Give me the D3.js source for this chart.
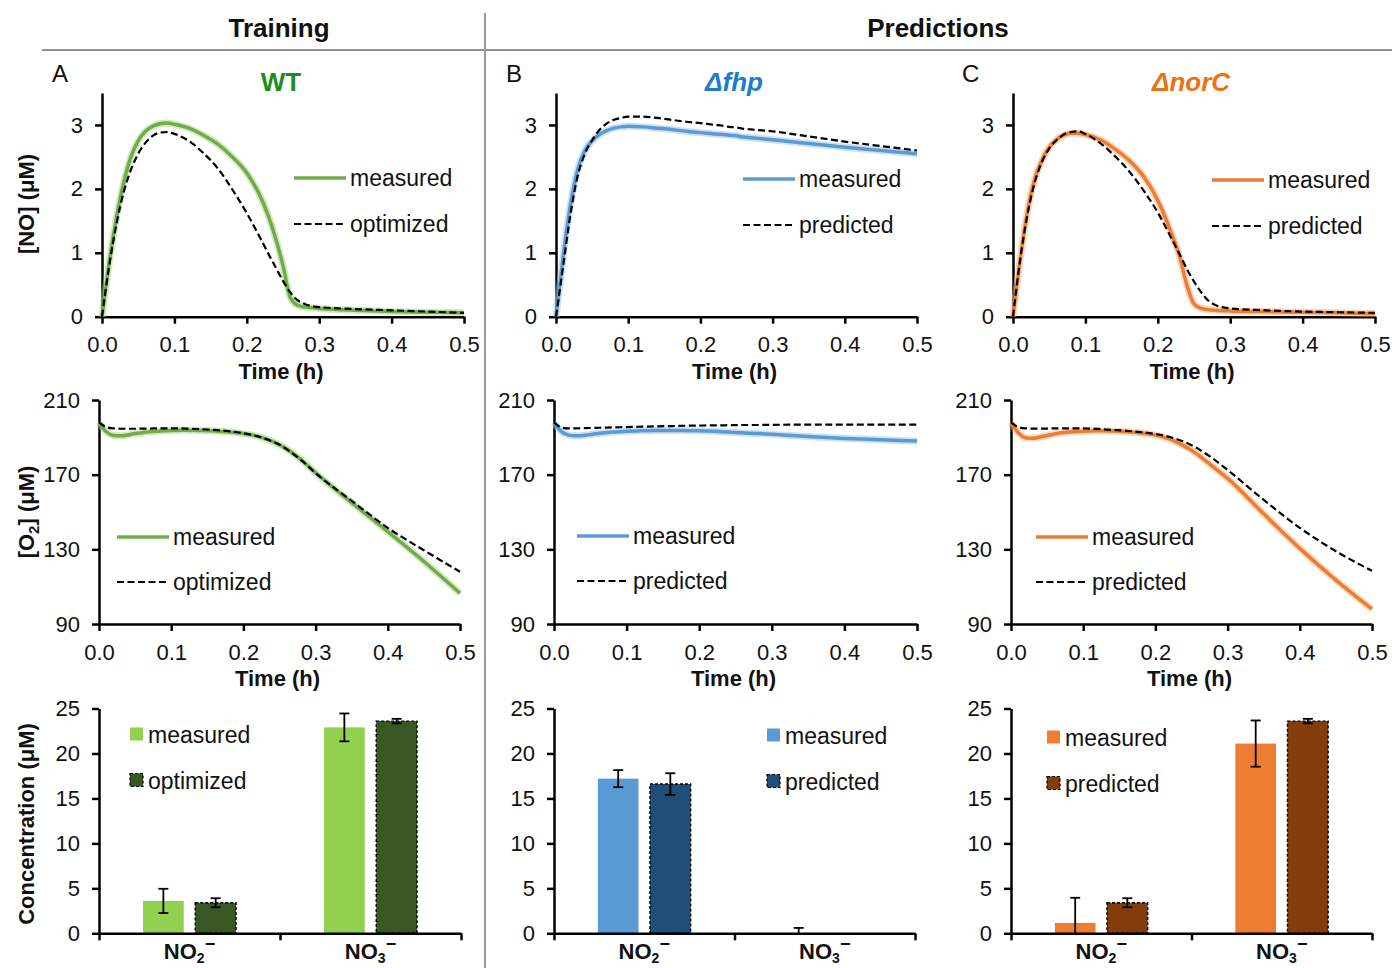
<!DOCTYPE html>
<html>
<head>
<meta charset="utf-8">
<script src="https://cdn.jsdelivr.net/npm/d3@7"></script>
<style>
  body { margin: 0; background: #fff; }
</style>
</head>
<body>
<div id="fig"></div>
<script>
// time grid (h) the curves were read at
const timeH = [0, 0.01, 0.02, 0.03, 0.04, 0.05, 0.06, 0.07, 0.08, 0.09, 0.10, 0.12, 0.14, 0.16, 0.18, 0.20, 0.22, 0.23, 0.24, 0.25, 0.26, 0.27, 0.28, 0.30, 0.35, 0.40, 0.45, 0.50];
const timeTicks = [0, 0.1, 0.2, 0.3, 0.4, 0.5];

// [NO] (uM)
const noWtMeasured    = [0, 0.85, 1.55, 2.1, 2.5, 2.75, 2.9, 2.98, 3.02, 3.03, 3.01, 2.95, 2.84, 2.7, 2.5, 2.25, 1.85, 1.57, 1.22, 0.8, 0.3, 0.18, 0.15, 0.13, 0.1, 0.08, 0.07, 0.06];
const noWtOptimized   = [0, 0.8, 1.45, 1.95, 2.3, 2.55, 2.72, 2.83, 2.88, 2.89, 2.86, 2.75, 2.56, 2.32, 1.99, 1.62, 1.2, 0.98, 0.77, 0.56, 0.38, 0.26, 0.2, 0.15, 0.12, 0.1, 0.08, 0.06];
const noFhpMeasured   = [0, 0.95, 1.75, 2.3, 2.6, 2.75, 2.85, 2.91, 2.95, 2.97, 2.98, 2.97, 2.95, 2.93, 2.9, 2.88, 2.86, 2.85, 2.84, 2.83, 2.81, 2.8, 2.79, 2.77, 2.71, 2.65, 2.6, 2.55];
const noFhpPredicted  = [0, 0.8, 1.6, 2.2, 2.55, 2.76, 2.92, 3.02, 3.08, 3.11, 3.13, 3.13, 3.11, 3.08, 3.05, 3.03, 3.0, 2.99, 2.97, 2.96, 2.94, 2.93, 2.92, 2.9, 2.82, 2.74, 2.67, 2.6];
const noNorCMeasured  = [0, 0.9, 1.65, 2.15, 2.45, 2.65, 2.77, 2.84, 2.87, 2.87, 2.85, 2.77, 2.63, 2.45, 2.2, 1.82, 1.27, 0.95, 0.5, 0.2, 0.13, 0.11, 0.1, 0.09, 0.08, 0.07, 0.06, 0.05];
const noNorCPredicted = [0, 0.9, 1.6, 2.1, 2.42, 2.63, 2.76, 2.85, 2.89, 2.9, 2.86, 2.72, 2.52, 2.28, 1.98, 1.63, 1.2, 0.98, 0.75, 0.55, 0.38, 0.25, 0.18, 0.13, 0.1, 0.08, 0.07, 0.06];

// [O2] (uM)
const o2WtMeasured    = [198, 193, 191, 190.8, 191.3, 192, 192.5, 193, 193.3, 193.5, 193.7, 193.8, 193.7, 193.4, 192.8, 192, 190.5, 189.3, 187.8, 186, 183.8, 181, 178, 171, 155, 139.5, 123.5, 106.5];
const o2WtOptimized   = [198, 195.5, 194.8, 194.6, 194.6, 194.6, 194.7, 194.7, 194.8, 194.8, 194.8, 194.7, 194.4, 194, 193.3, 192.2, 190.5, 189.3, 187.8, 186, 183.6, 180.8, 177.8, 170.8, 156, 141.5, 129.5, 118];
const o2FhpMeasured   = [198, 193.2, 191.2, 190.8, 191, 191.5, 192, 192.4, 192.8, 193, 193.3, 193.5, 193.7, 193.7, 193.6, 193.5, 193.2, 193, 192.8, 192.6, 192.4, 192.2, 192, 191.6, 190.4, 189.4, 188.7, 188];
const o2FhpPredicted  = [198, 195.3, 194.8, 194.8, 194.9, 195, 195.1, 195.2, 195.3, 195.4, 195.5, 195.7, 195.9, 196, 196.2, 196.3, 196.4, 196.4, 196.5, 196.5, 196.6, 196.6, 196.6, 196.7, 196.8, 196.8, 196.8, 196.8];
const o2NorCMeasured  = [198, 192.5, 189.8, 189.5, 190.2, 191, 191.8, 192.4, 192.8, 193.1, 193.3, 193.5, 193.4, 193, 192.3, 191.2, 189, 187.3, 185.3, 183, 180.3, 177.3, 174.2, 168, 149, 130.5, 113.5, 98];
const o2NorCPredicted = [198, 195.5, 194.8, 194.7, 194.7, 194.7, 194.8, 194.8, 194.8, 194.8, 194.8, 194.5, 194, 193.5, 192.8, 191.8, 190.2, 189, 187.6, 185.8, 183.7, 181.2, 178.5, 172.5, 156.5, 141.5, 129, 118.5];

// end-point nitrite / nitrate (uM) with error bars
const ions = ["NO2", "NO3"];
const barWtMeasured      = [3.6, 22.9];
const barWtMeasuredErr   = [1.35, 1.55];
const barWtOptimized     = [3.4, 23.6];
const barWtOptimizedErr  = [0.5, 0.25];
const barFhpMeasured     = [17.2, 0];
const barFhpMeasuredErr  = [0.95, 0.6];
const barFhpPredicted    = [16.6, 0];
const barFhpPredictedErr = [1.2, 0];
const barNorCMeasured     = [1.15, 21.1];
const barNorCMeasuredErr  = [2.8, 2.57];
const barNorCPredicted    = [3.4, 23.6];
const barNorCPredictedErr = [0.5, 0.25];

const noTicks = [0, 1, 2, 3];
const o2Ticks = [90, 130, 170, 210];
const barTicks = [0, 5, 10, 15, 20, 25];

const font = "Arial, 'Liberation Sans', sans-serif";

const cols = [
  {letter: "A", letterX: 52, title: "WT", titleX: 281, italic: false, titleColor: "#1f8c23",
   noX: [102, 464], o2X: [99, 460], barX: [99, 461],
   color: "#70ad47", halo: "#a9d18e", light: "#92d050", dark: "#385723", fitLabel: "optimized",
   no: [noWtMeasured, noWtOptimized], o2: [o2WtMeasured, o2WtOptimized],
   bars: [barWtMeasured, barWtMeasuredErr, barWtOptimized, barWtOptimizedErr],
   noLeg: [294, 178], o2Leg: [117, 537], barLeg: [130, 734]},
  {letter: "B", letterX: 506, title: "\u0394fhp", titleX: 734, italic: true, titleColor: "#1b7ccf",
   noX: [556, 917], o2X: [554, 917], barX: [554, 915],
   color: "#5b9bd5", halo: "#9dc3e6", light: "#5b9bd5", dark: "#1f4e79", fitLabel: "predicted",
   no: [noFhpMeasured, noFhpPredicted], o2: [o2FhpMeasured, o2FhpPredicted],
   bars: [barFhpMeasured, barFhpMeasuredErr, barFhpPredicted, barFhpPredictedErr],
   noLeg: [743, 179], o2Leg: [577, 536], barLeg: [767, 735]},
  {letter: "C", letterX: 962, title: "\u0394norC", titleX: 1191, italic: true, titleColor: "#ec7211",
   noX: [1013, 1375], o2X: [1011, 1372], barX: [1011, 1372],
   color: "#ed7d31", halo: "#f4b183", light: "#ed7d31", dark: "#843c0c", fitLabel: "predicted",
   no: [noNorCMeasured, noNorCPredicted], o2: [o2NorCMeasured, o2NorCPredicted],
   bars: [barNorCMeasured, barNorCMeasuredErr, barNorCPredicted, barNorCPredictedErr],
   noLeg: [1212, 180], o2Leg: [1036, 537], barLeg: [1047, 737]}
];

const svg = d3.select("#fig").append("svg")
    .attr("width", 1392)
    .attr("height", 968)
    .style("font-family", font)
    .style("background", "#fff");

// header row
svg.append("text").attr("x", 279).attr("y", 37).attr("text-anchor", "middle")
    .attr("font-size", 26).attr("font-weight", "bold").attr("fill", "#111").text("Training");
svg.append("text").attr("x", 938).attr("y", 37).attr("text-anchor", "middle")
    .attr("font-size", 26).attr("font-weight", "bold").attr("fill", "#111").text("Predictions");
svg.append("line").attr("x1", 42).attr("x2", 1392).attr("y1", 50).attr("y2", 50)
    .attr("stroke", "#8f8f8f").attr("stroke-width", 2);
svg.append("line").attr("x1", 485).attr("x2", 485).attr("y1", 13).attr("y2", 968)
    .attr("stroke", "#9a9a9a").attr("stroke-width", 2);

function styleAxis(g) {
    g.select(".domain").attr("stroke", "#000").attr("stroke-width", 2.5);
    g.selectAll(".tick line").attr("stroke", "#000").attr("stroke-width", 2.5);
    g.selectAll(".tick text").attr("font-size", 22).attr("font-family", font).attr("fill", "#111");
}

function linePanel(c, xr, yTop, yBot, yDomain, yTicks, series, leg, legGap) {
    const x = d3.scaleLinear().domain([0, 0.5]).range(xr);
    const y = d3.scaleLinear().domain(yDomain).range([yBot, yTop]);
    const g = svg.append("g");

    g.append("g").attr("transform", `translate(0,${yBot})`)
        .call(d3.axisBottom(x).tickValues(timeTicks).tickFormat(d3.format(".1f"))
            .tickSize(7).tickPadding(13).tickSizeOuter(0))
        .call(styleAxis);
    g.append("g").attr("transform", `translate(${xr[0]},0)`)
        .call(d3.axisLeft(y).tickValues(yTicks).tickFormat(d3.format("d"))
            .tickSize(7).tickPadding(12).tickSizeOuter(0))
        .call(styleAxis);

    const line = d3.line()
        .x((d, i) => x(timeH[i]))
        .y(d => y(d))
        .curve(d3.curveMonotoneX);

    // measured: pale band + solid line, model: black dashes
    g.append("path").datum(series[0]).attr("d", line).attr("fill", "none")
        .attr("stroke", c.halo).attr("stroke-width", 7).attr("opacity", 0.5);
    g.append("path").datum(series[0]).attr("d", line).attr("fill", "none")
        .attr("stroke", c.color).attr("stroke-width", 3.5);
    g.append("path").datum(series[1]).attr("d", line).attr("fill", "none")
        .attr("stroke", "#000").attr("stroke-width", 2.2).attr("stroke-dasharray", "7,3.5");

    g.append("text").attr("x", (xr[0] + xr[1]) / 2 - 2).attr("y", yBot + 62)
        .attr("text-anchor", "middle").attr("font-size", 22).attr("font-weight", "bold")
        .attr("fill", "#111").text("Time (h)");

    // legend
    const lx = leg[0], ly = leg[1];
    g.append("line").attr("x1", lx).attr("x2", lx + 52).attr("y1", ly).attr("y2", ly)
        .attr("stroke", c.color).attr("stroke-width", 3.5);
    g.append("line").attr("x1", lx).attr("x2", lx + 52).attr("y1", ly + legGap).attr("y2", ly + legGap)
        .attr("stroke", "#000").attr("stroke-width", 2.2).attr("stroke-dasharray", "7,3.5");
    g.append("text").attr("x", lx + 56).attr("y", ly + 8).attr("font-size", 23)
        .attr("fill", "#111").text("measured");
    g.append("text").attr("x", lx + 56).attr("y", ly + legGap + 8).attr("font-size", 23)
        .attr("fill", "#111").text(c.fitLabel);
}

function barPanel(c, xr, leg) {
    const yTop = 708.5, yBot = 933.3;
    const [meas, measErr, fit, fitErr] = c.bars;
    const x0 = d3.scaleBand().domain(ions).range(xr).paddingInner(0.486).paddingOuter(0.243);
    const x1 = d3.scaleBand().domain(["m", "p"]).range([0, x0.bandwidth()]).paddingInner(0.22);
    const y = d3.scaleLinear().domain([0, 25]).range([yBot, yTop]);
    const xEdge = d3.scaleLinear().domain([0, ions.length]).range(xr);
    const g = svg.append("g");

    const rows = ions.map((ion, i) => [
        {ion, key: "m", v: meas[i], e: measErr[i], fill: c.light, dashed: false},
        {ion, key: "p", v: fit[i], e: fitErr[i], fill: c.dark, dashed: true}
    ]).flat();

    g.selectAll("rect.bar")
        .data(rows.filter(d => d.v > 0))
        .enter()
        .append("rect")
        .attr("class", "bar")
        .attr("x", d => x0(d.ion) + x1(d.key))
        .attr("width", x1.bandwidth())
        .attr("y", d => y(d.v))
        .attr("height", d => y(0) - y(d.v))
        .attr("fill", d => d.fill)
        .attr("stroke", d => d.dashed ? "#000" : "none")
        .attr("stroke-width", 1.4)
        .attr("stroke-dasharray", d => d.dashed ? "3,2" : null);

    // error bars
    rows.filter(d => d.e > 0).forEach(d => {
        const cx = x0(d.ion) + x1(d.key) + x1.bandwidth() / 2;
        const lo = Math.max(0, d.v - d.e), hi = d.v + d.e;
        g.append("line").attr("x1", cx).attr("x2", cx).attr("y1", y(lo)).attr("y2", y(hi))
            .attr("stroke", "#000").attr("stroke-width", 1.8);
        g.append("line").attr("x1", cx - 5).attr("x2", cx + 5).attr("y1", y(hi)).attr("y2", y(hi))
            .attr("stroke", "#000").attr("stroke-width", 1.8);
        if (d.v - d.e > 0) {
            g.append("line").attr("x1", cx - 5).attr("x2", cx + 5).attr("y1", y(lo)).attr("y2", y(lo))
                .attr("stroke", "#000").attr("stroke-width", 1.8);
        }
    });

    g.append("g").attr("transform", `translate(0,${yBot})`)
        .call(d3.axisBottom(xEdge).tickValues([0, 1, 2]).tickFormat("").tickSize(7).tickSizeOuter(0))
        .call(styleAxis);
    g.append("g").attr("transform", `translate(${xr[0]},0)`)
        .call(d3.axisLeft(y).tickValues(barTicks).tickSize(7).tickPadding(12).tickSizeOuter(0))
        .call(styleAxis);

    // category labels NO2- / NO3-
    ions.forEach(ion => {
        const t = g.append("text").attr("x", x0(ion) + x0.bandwidth() / 2).attr("y", yBot + 26)
            .attr("text-anchor", "middle").attr("font-size", 22).attr("font-weight", "bold")
            .attr("fill", "#111");
        t.append("tspan").text(ion.slice(0, 2));
        t.append("tspan").attr("font-size", 14).attr("dy", 4).text(ion.slice(2));
        t.append("tspan").attr("font-size", 18).attr("dy", -13).text("\u2212");
    });

    // legend
    const lx = leg[0], ly = leg[1];
    g.append("rect").attr("x", lx).attr("y", ly - 6.5).attr("width", 13).attr("height", 13)
        .attr("fill", c.light);
    g.append("rect").attr("x", lx).attr("y", ly + 39.5).attr("width", 13).attr("height", 13)
        .attr("fill", c.dark).attr("stroke", "#000").attr("stroke-width", 1.2).attr("stroke-dasharray", "3,2");
    g.append("text").attr("x", lx + 18).attr("y", ly + 8.5).attr("font-size", 23)
        .attr("fill", "#111").text("measured");
    g.append("text").attr("x", lx + 18).attr("y", ly + 54.5).attr("font-size", 23)
        .attr("fill", "#111").text(c.fitLabel);
}

cols.forEach(c => {
    svg.append("text").attr("x", c.letterX).attr("y", 82).attr("font-size", 24)
        .attr("fill", "#111").text(c.letter);
    svg.append("text").attr("x", c.titleX).attr("y", 91).attr("text-anchor", "middle")
        .attr("font-size", 26).attr("font-weight", "bold")
        .attr("font-style", c.italic ? "italic" : "normal")
        .attr("fill", c.titleColor).text(c.title);

    linePanel(c, c.noX, 93, 316.7, [0, 3.5], noTicks, c.no, c.noLeg, 46);
    linePanel(c, c.o2X, 400, 624, [90, 210], o2Ticks, c.o2, c.o2Leg, 45);
    barPanel(c, c.barX, c.barLeg);
});

// y-axis titles (left column only)
function yTitle(cy, build) {
    const t = svg.append("text").attr("transform", `translate(34,${cy}) rotate(-90)`)
        .attr("text-anchor", "middle").attr("font-size", 22).attr("font-weight", "bold")
        .attr("fill", "#111");
    build(t);
}
yTitle(204, t => t.text("[NO] (\u03bcM)"));
yTitle(512, t => {
    t.append("tspan").text("[O");
    t.append("tspan").attr("font-size", 15).attr("dy", 5).text("2");
    t.append("tspan").attr("dy", -5).text("] (\u03bcM)");
});
yTitle(824, t => t.text("Concentration (\u03bcM)"));
</script>
</body>
</html>
